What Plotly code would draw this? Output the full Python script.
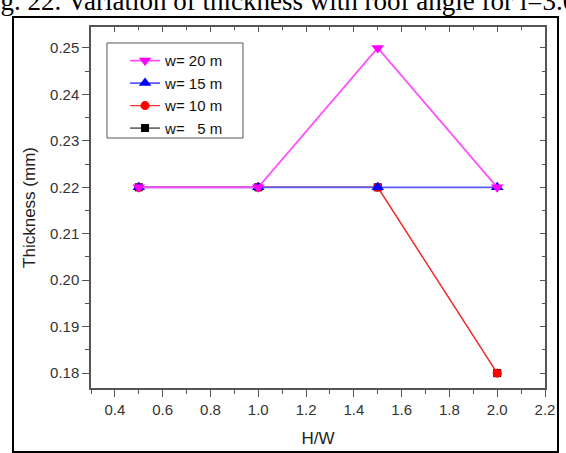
import plotly.graph_objects as go

# H/W ratios and film thickness (mm) for each width
hw = [0.5, 1.0, 1.5, 2.0]
thick_w5 = [0.22, 0.22, 0.22, 0.18]
thick_w10 = [0.22, 0.22, 0.22, 0.18]
thick_w15 = [0.22, 0.22, 0.22, 0.22]
thick_w20 = [0.22, 0.22, 0.25, 0.22]

x_ticks = [0.4, 0.6, 0.8, 1.0, 1.2, 1.4, 1.6, 1.8, 2.0, 2.2]
y_ticks = [0.18, 0.19, 0.20, 0.21, 0.22, 0.23, 0.24, 0.25]

# (label, values, marker colour, line colour, symbol, marker size, line width)
series = [
    ("w=\u00a0\u00a0\u00a05 m", thick_w5, "#000000", "#000000", "square", 8, 1.0),
    ("w= 10 m", thick_w10, "#ff0000", "#ff3030", "circle", 9, 1.4),
    ("w= 15 m", thick_w15, "#0000ff", "#5a5aff", "triangle-up", 11, 1.8),
    ("w= 20 m", thick_w20, "#ff00ff", "#ff50ff", "triangle-down", 11, 1.8),
]

fig = go.Figure()
for name, vals, mcol, lcol, sym, msize, lw in series:
    fig.add_trace(go.Scatter(
        x=hw, y=vals, name=name, mode="lines+markers",
        line=dict(color=lcol, width=lw),
        marker=dict(symbol=sym, size=msize, color=mcol, line=dict(width=0)),
    ))

# empty trace carrying the mirrored top/right axes
fig.add_trace(go.Scatter(x=[], y=[], xaxis="x2", yaxis="y2", showlegend=False))

axis_col = "#555555"
tick_font = dict(family="Liberation Sans, Arial, sans-serif", size=15, color="#333333")
title_font = dict(family="Liberation Sans, Arial, sans-serif", size=17, color="#222222")
xr = [0.3, 2.2]
yr = [0.1768, 0.2545]

fig.update_layout(
    width=566, height=453,
    margin=dict(l=91, r=21, t=27, b=65, autoexpand=False),
    paper_bgcolor="white", plot_bgcolor="white",
    font=dict(family="Liberation Sans, Arial, sans-serif", color="#222222"),
    xaxis=dict(
        range=xr, tickvals=x_ticks, ticktext=[f"{v:.1f}" for v in x_ticks],
        ticks="outside", ticklen=7, tickcolor=axis_col, tickwidth=1,
        minor=dict(dtick=0.1, tick0=0.3, ticks="outside", ticklen=4, tickcolor=axis_col),
        showline=True, linecolor=axis_col, linewidth=1.5, showgrid=False, zeroline=False,
        tickfont=tick_font, automargin=False,
        title=dict(text="H/W", font=title_font, standoff=15),
    ),
    yaxis=dict(
        range=yr, tickvals=y_ticks, ticktext=[f"{v:.2f}" for v in y_ticks],
        ticks="outside", ticklen=7, tickcolor=axis_col, tickwidth=1,
        minor=dict(dtick=0.005, tick0=0.175, ticks="outside", ticklen=4, tickcolor=axis_col),
        showline=True, linecolor=axis_col, linewidth=1.5, showgrid=False, zeroline=False,
        tickfont=tick_font, automargin=False,
        title=dict(text="Thickness (mm)", font=title_font, standoff=10),
    ),
    xaxis2=dict(
        range=xr, overlaying="x", side="top", anchor="y",
        tickvals=x_ticks, showticklabels=False,
        ticks="inside", ticklen=5, tickcolor=axis_col,
        minor=dict(dtick=0.1, tick0=0.3, ticks="inside", ticklen=3, tickcolor=axis_col),
        showline=True, linecolor=axis_col, linewidth=1.5, showgrid=False, zeroline=False,
        automargin=False,
    ),
    yaxis2=dict(
        range=yr, overlaying="y", side="right", anchor="x",
        tickvals=y_ticks, showticklabels=False,
        ticks="inside", ticklen=5, tickcolor=axis_col,
        minor=dict(dtick=0.005, tick0=0.175, ticks="inside", ticklen=3, tickcolor=axis_col),
        showline=True, linecolor=axis_col, linewidth=1.5, showgrid=False, zeroline=False,
        automargin=False,
    ),
    legend=dict(
        x=0.075, y=0.952, xanchor="left", yanchor="top",
        traceorder="reversed",
        bgcolor="rgba(0,0,0,0)", borderwidth=0,
        font=dict(family="Liberation Sans, Arial, sans-serif", size=15, color="#111111"),
        itemwidth=30, tracegroupgap=0,
    ),
    showlegend=True,
)

# legend frame
fig.add_shape(type="rect", xref="paper", yref="paper", layer="above",
              x0=0.0352, x1=0.3348, y0=0.6925, y1=0.9557,
              line=dict(color="#555555", width=1), fillcolor="rgba(0,0,0,0)")

# outer frame around the figure panel
fig.add_shape(type="rect", xref="paper", yref="paper",
              x0=-0.1718, x1=1.0286, y0=-0.1773, y1=1.0277,
              line=dict(color="black", width=2), fillcolor="rgba(0,0,0,0)")

# caption above the frame
fig.add_annotation(
    text="Fig. 22. Variation of thickness with roof angle for i=3.05",
    xref="paper", yref="paper", x=-0.254, y=1.026, xanchor="left", yanchor="bottom",
    showarrow=False,
    font=dict(family="Liberation Serif, Times New Roman, serif", size=27, color="black"),
)

fig.write_html("out.html")
